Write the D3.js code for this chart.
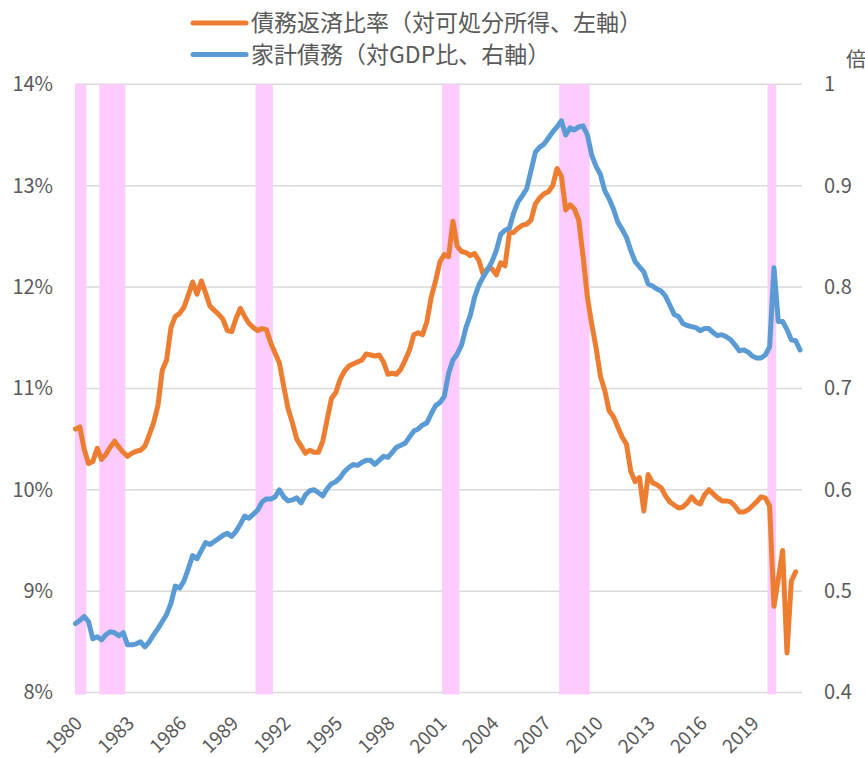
<!DOCTYPE html>
<html><head><meta charset="utf-8">
<script src="https://cdn.jsdelivr.net/npm/d3@7"></script>
<style>
html,body{margin:0;padding:0;background:#fff;}
svg{display:block;}
text{font-family:"Noto Sans CJK JP","Noto Sans",sans-serif;fill:#595959;}
</style></head>
<body>
<svg id="chart" width="865" height="758"></svg>
<script>
// ---- data ----
const startYear = 1980, endYear = 2021;
const quarters = [];
for (let y = startYear; y <= endYear; y++) for (let q = 1; q <= 4; q++) quarters.push(y + "Q" + q);

// Debt service ratio (% of disposable income), left axis, 1980Q1–2021Q3
const debtServiceRatio = [
  10.60,10.62,10.40,10.26, 10.28,10.41,10.30,10.35, 10.42,10.48,10.42,10.37, 10.33,10.36,10.38,10.39,
  10.43,10.54,10.66,10.83, 11.18,11.28,11.60,11.71, 11.74,11.80,11.92,12.05, 11.93,12.06,11.94,11.81,
  11.77,11.73,11.68,11.57, 11.56,11.69,11.79,11.71, 11.64,11.60,11.57,11.59, 11.58,11.45,11.35,11.25,
  11.02,10.80,10.66,10.50, 10.43,10.36,10.39,10.37, 10.37,10.48,10.69,10.90, 10.96,11.09,11.17,11.22,
  11.24,11.26,11.28,11.34, 11.33,11.32,11.33,11.26, 11.14,11.15,11.14,11.19, 11.28,11.38,11.53,11.55,
  11.53,11.66,11.90,12.06, 12.25,12.32,12.30,12.65, 12.40,12.35,12.34,12.31, 12.33,12.26,12.12,12.18,
  12.18,12.12,12.24,12.21, 12.53,12.54,12.58,12.61, 12.62,12.66,12.82,12.88, 12.92,12.94,13.00,13.17,
  13.09,12.76,12.81,12.77, 12.66,12.30,11.90,11.63, 11.40,11.12,10.98,10.78, 10.72,10.62,10.52,10.45,
  10.18,10.08,10.12,9.79, 10.15,10.07,10.05,10.02, 9.94,9.88,9.85,9.82, 9.83,9.87,9.93,9.88,
  9.86,9.95,10.00,9.96, 9.92,9.89,9.89,9.88, 9.84,9.78,9.78,9.80, 9.84,9.88,9.93,9.92,
  9.84,8.85,9.12,9.40, 8.39,9.10,9.19
];

// Household debt (ratio to GDP), right axis, 1980Q1–2021Q4
const householdDebt = [
  0.468,0.471,0.475,0.470, 0.453,0.455,0.452,0.457, 0.460,0.459,0.456,0.459, 0.447,0.447,0.448,0.450,
  0.445,0.450,0.457,0.463, 0.470,0.477,0.488,0.505, 0.503,0.510,0.522,0.535, 0.532,0.540,0.548,0.546,
  0.549,0.552,0.555,0.557, 0.554,0.559,0.566,0.574, 0.572,0.576,0.580,0.588, 0.591,0.591,0.593,0.600,
  0.593,0.589,0.590,0.592, 0.587,0.595,0.599,0.600, 0.597,0.594,0.601,0.606, 0.608,0.612,0.618,0.622,
  0.625,0.624,0.627,0.629, 0.629,0.625,0.629,0.633, 0.632,0.637,0.642,0.644, 0.646,0.652,0.658,0.660,
  0.664,0.666,0.675,0.683, 0.686,0.692,0.715,0.728, 0.734,0.743,0.760,0.772, 0.790,0.802,0.810,0.817,
  0.825,0.836,0.852,0.856, 0.858,0.873,0.884,0.890, 0.897,0.915,0.933,0.938, 0.941,0.947,0.953,0.958,
  0.964,0.950,0.957,0.955, 0.958,0.959,0.950,0.930, 0.919,0.911,0.895,0.887, 0.877,0.864,0.857,0.849,
  0.836,0.825,0.820,0.815, 0.803,0.801,0.798,0.796, 0.791,0.782,0.773,0.771, 0.764,0.762,0.761,0.760,
  0.757,0.759,0.759,0.755, 0.752,0.753,0.751,0.748, 0.743,0.737,0.738,0.736, 0.732,0.730,0.730,0.733,
  0.741,0.819,0.766,0.766, 0.758,0.748,0.747,0.738
];

// Recession periods (shaded)
const recessionStart = ["1980Q1","1981Q3","1990Q3","2001Q2","2008Q1","2020Q1"];
const recessionEnd   = ["1980Q3","1982Q4","1991Q2","2002Q1","2009Q3","2020Q2"];

const leftTicks = [8, 9, 10, 11, 12, 13, 14];
const rightTicks = [0.4, 0.5, 0.6, 0.7, 0.8, 0.9, 1];
const yearTicks = ["1980","1983","1986","1989","1992","1995","1998","2001","2004","2007","2010","2013","2016","2019"];

const legendLabels = ["債務返済比率（対可処分所得、左軸）", "家計債務（対GDP比、右軸）"];
const rightUnit = "倍";

// ---- drawing ----
const svg = d3.select("#chart");
const plotL = 75, plotR = 802, plotT = 84.3, plotB = 692.5;
const colOrange = "#ED7D31", colBlue = "#5B9BD5";

const x = d3.scaleLinear().domain([0, quarters.length - 1]).range([75.5, 800]);
const yL = d3.scaleLinear().domain([8, 14]).range([plotB, plotT]);
const yR = d3.scaleLinear().domain([0.4, 1]).range([plotB, plotT]);

// gridlines
svg.append("g").selectAll("line").data(leftTicks).join("line")
  .attr("x1", plotL).attr("x2", plotR)
  .attr("y1", d => yL(d)).attr("y2", d => yL(d))
  .attr("stroke", "#d9d9d9").attr("stroke-width", 1.5);

// recession shading
const recData = recessionStart.map((s, i) => [quarters.indexOf(s), quarters.indexOf(recessionEnd[i])]);
svg.append("g").selectAll("rect").data(recData).join("rect")
  .attr("x", d => Math.max(plotL, x(d[0] - 0.5)))
  .attr("width", d => Math.min(plotR, x(d[1] + 0.5)) - Math.max(plotL, x(d[0] - 0.5)))
  .attr("y", plotT).attr("height", plotB - plotT + 2)
  .attr("fill", "#fdcbfd");

// left axis labels
const gL = svg.append("g").attr("transform", `translate(${plotL},0)`);
const axL = d3.axisLeft(yL).tickValues(leftTicks).tickFormat(d => d + "%").tickSize(0).tickPadding(22);
gL.call(axL);
gL.select(".domain").remove();
gL.selectAll("text").style("font-size", "20px").attr("fill", "#595959")
  .style("font-family", '"Noto Sans CJK JP", sans-serif');

// right axis labels
const gR = svg.append("g").attr("transform", `translate(${plotR},0)`);
const axR = d3.axisRight(yR).tickValues(rightTicks).tickFormat(d => d3.format("")(d)).tickSize(0).tickPadding(22);
gR.call(axR);
gR.select(".domain").remove();
gR.selectAll("text").style("font-size", "20px").attr("fill", "#595959")
  .style("font-family", '"Noto Sans CJK JP", sans-serif');

svg.append("text").attr("x", 846).attr("y", 60).attr("dy", "0.35em")
  .style("font-size", "20px").attr("fill", "#262626").text(rightUnit);

// x axis labels (rotated)
const gX = svg.append("g").attr("transform", `translate(0,${plotB})`);
const axX = d3.axisBottom(x).tickValues(yearTicks.map(y => quarters.indexOf(y + "Q1")))
  .tickFormat(i => quarters[i].slice(0, 4)).tickSize(0);
gX.call(axX);
gX.select(".domain").remove();
gX.selectAll(".tick text")
  .style("font-size", "19px").attr("fill", "#595959")
  .style("font-family", '"Noto Sans CJK JP", sans-serif')
  .attr("text-anchor", "end").attr("dy", null).attr("y", 0)
  .attr("transform", "translate(7.5,32) rotate(-45)");

// lines
const lineL = d3.line().x((d, i) => x(i)).y(d => yL(d));
const lineR = d3.line().x((d, i) => x(i)).y(d => yR(d));
svg.append("path").datum(debtServiceRatio).attr("d", lineL)
  .attr("fill", "none").attr("stroke", colOrange).attr("stroke-width", 5)
  .attr("stroke-linejoin", "round").attr("stroke-linecap", "round");
svg.append("path").datum(householdDebt).attr("d", lineR)
  .attr("fill", "none").attr("stroke", colBlue).attr("stroke-width", 5)
  .attr("stroke-linejoin", "round").attr("stroke-linecap", "round");

// legend
const legendColors = [colOrange, colBlue];
const legendY = [23, 54.5];
const lg = svg.append("g");
legendLabels.forEach((lab, i) => {
  lg.append("line").attr("x1", 193).attr("x2", 246).attr("y1", legendY[i]).attr("y2", legendY[i])
    .attr("stroke", legendColors[i]).attr("stroke-width", 5).attr("stroke-linecap", "round");
  lg.append("text").attr("x", 251).attr("y", legendY[i]).attr("dy", "0.36em")
    .style("font-size", "23px").text(lab);
});
</script>
</body></html>
